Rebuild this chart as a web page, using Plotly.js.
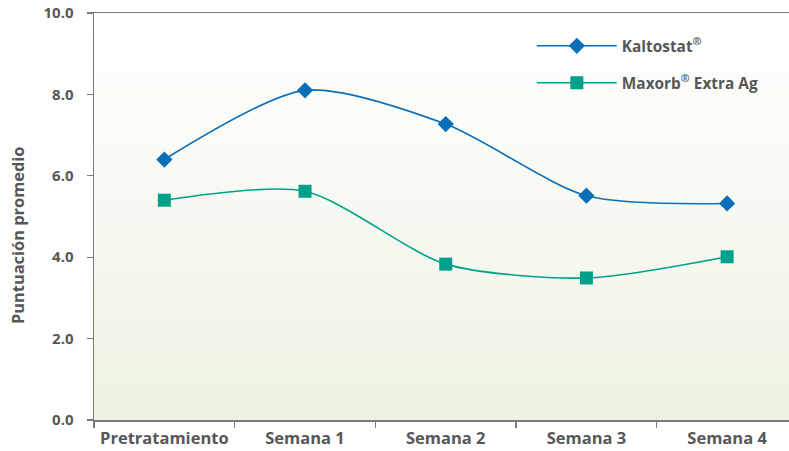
<!DOCTYPE html>
<html>
<head>
<meta charset="utf-8">
<script src="https://cdn.plot.ly/plotly-3.0.1.min.js"></script>
<style>html,body{margin:0;padding:0;background:#fff;}#chart{width:789px;height:451px;}</style>
</head>
<body>
<div id="chart"></div>
<script>
const categories = ["Pretratamiento", "Semana 1", "Semana 2", "Semana 3", "Semana 4"];
const kaltostat = [6.4, 8.1, 7.27, 5.51, 5.32];
const maxorb = [5.4, 5.62, 3.83, 3.49, 4.01];
const seriesNames = ["Kaltostat<sup>®</sup>", "Maxorb<sup>®</sup> Extra Ag"];
const yTicks = [0, 2, 4, 6, 8, 10];

const gray = "#575757";
const bgSvg = '<svg xmlns="http://www.w3.org/2000/svg" width="100" height="100" preserveAspectRatio="none"><defs><linearGradient id="g" x1="0" y1="0" x2="0" y2="1"><stop offset="0" stop-color="#ffffff"/><stop offset="1" stop-color="#edf3e2"/></linearGradient></defs><rect width="100" height="100" fill="url(#g)"/></svg>';

const traces = [
  {x: categories, y: kaltostat, name: seriesNames[0], legendgroup: "a", type: "scatter", mode: "lines+markers",
   line: {color: "#0a6eb9", width: 1.6, shape: "spline", smoothing: 0.75},
   marker: {symbol: "diamond", size: 12.5, color: "#0a6eb9"}},
  {x: categories, y: maxorb, name: seriesNames[1], legendgroup: "b", type: "scatter", mode: "lines+markers",
   line: {color: "#00a08b", width: 1.6, shape: "spline", smoothing: 0.75},
   marker: {symbol: "square", size: 13, color: "#00a08b"}}
];

const layout = {
  width: 789, height: 451,
  margin: {l: 94, r: 0, t: 13, b: 31},
  paper_bgcolor: "#ffffff",
  plot_bgcolor: "rgba(0,0,0,0)",
  font: {family: "Open Sans, sans-serif", color: gray},
  showlegend: true,
  legend: {x: 0.630, y: 0.96, xanchor: "left", yanchor: "top", bgcolor: "rgba(0,0,0,0)",
           font: {size: 15.4, weight: 700, color: gray}, tracegroupgap: 14, itemwidth: 80},
  xaxis: {type: "category", range: [-0.5, 4.44], showgrid: false, zeroline: false,
          showline: true, linecolor: "#7a7a7a", linewidth: 1.5, mirror: true,
          ticks: "outside", tickson: "boundaries", ticklen: 6, tickcolor: "#7a7a7a", tickwidth: 1.2,
          ticklabelstandoff: 3,
          tickfont: {size: 16.5, weight: 700, color: gray}, fixedrange: true},
  yaxis: {range: [0, 10], tickvals: yTicks, tickformat: ".1f", showgrid: false, zeroline: false,
          showline: true, linecolor: "#7a7a7a", linewidth: 1.5,
          ticks: "outside", ticklen: 6, tickcolor: "#7a7a7a", tickwidth: 1.2,
          ticklabelstandoff: 10,
          tickfont: {size: 15, weight: 700, color: gray}, fixedrange: true},
  images: [{source: "data:image/svg+xml;charset=utf-8," + encodeURIComponent(bgSvg),
            xref: "paper", yref: "paper", x: 0, y: 1, sizex: 1, sizey: 1,
            sizing: "stretch", xanchor: "left", yanchor: "top", layer: "below"}],
  annotations: [{text: "Puntuación promedio", xref: "paper", yref: "paper", x: -0.109, y: 0.455,
                 textangle: -90, showarrow: false, font: {size: 16.4, weight: 700, color: gray},
                 xanchor: "center", yanchor: "middle"}]
};

Plotly.newPlot("chart", traces, layout, {displayModeBar: false, staticPlot: true});
</script>
</body>
</html>
